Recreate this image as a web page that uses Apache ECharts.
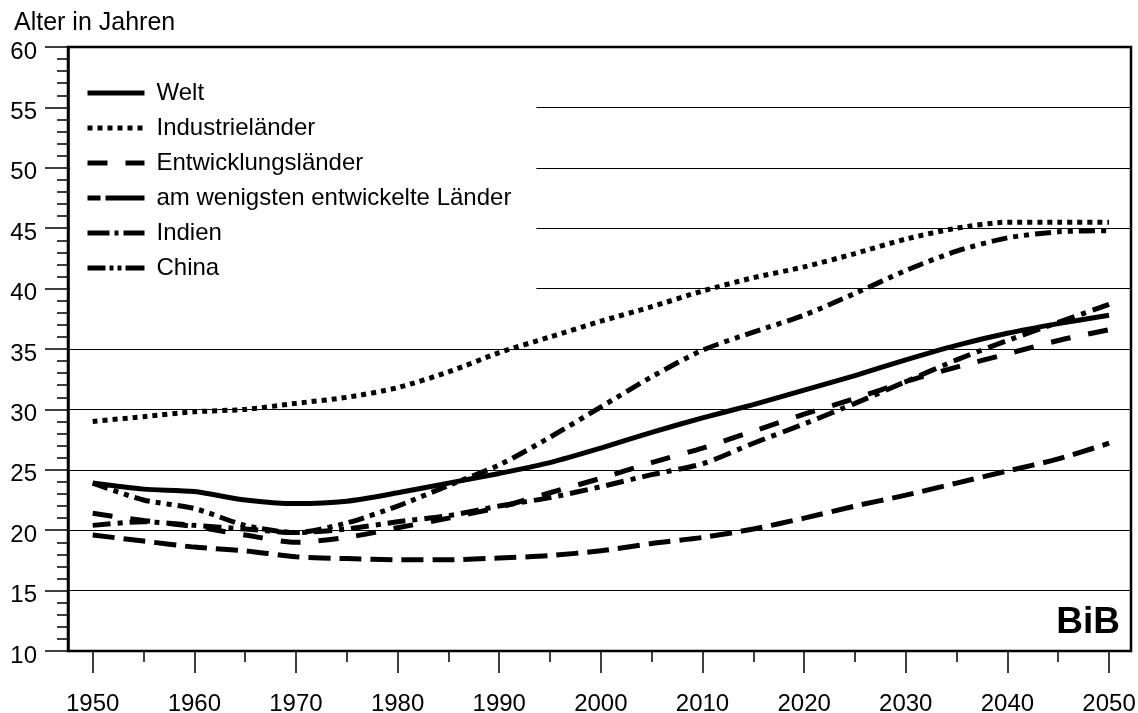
<!DOCTYPE html>
<html>
<head>
<meta charset="utf-8">
<script src="https://cdn.jsdelivr.net/npm/echarts@6/dist/echarts.min.js"></script>
<style>
  html, body { margin: 0; padding: 0; background: #fff; }
  #chart { width: 1138px; height: 713px; }
</style>
</head>
<body>
<div id="chart"></div>
<script>
// Medianalter nach Regionen, 1950-2050
const years = [1950, 1955, 1960, 1965, 1970, 1975, 1980, 1985, 1990, 1995, 2000,
  2005, 2010, 2015, 2020, 2025, 2030, 2035, 2040, 2045, 2050]
const welt = [23.9, 23.4, 23.2, 22.5, 22.2, 22.4, 23.1, 23.9, 24.7, 25.6, 26.8,
  28.1, 29.3, 30.4, 31.6, 32.8, 34.1, 35.3, 36.3, 37.1, 37.8]
const industrie = [29.0, 29.4, 29.8, 30.0, 30.5, 31.0, 31.8, 33.1, 34.7, 36.0, 37.3,
  38.5, 39.8, 40.9, 41.8, 42.9, 44.1, 45.0, 45.5, 45.5, 45.5]
const entwicklung = [21.4, 20.8, 20.3, 19.6, 19.0, 19.4, 20.2, 21.0, 21.9, 23.1, 24.3,
  25.6, 26.8, 28.2, 29.6, 30.9, 32.3, 33.5, 34.6, 35.7, 36.6]
const wenigst = [19.6, 19.1, 18.6, 18.3, 17.8, 17.65, 17.55, 17.55, 17.7, 17.9, 18.3,
  18.9, 19.4, 20.1, 21.0, 22.0, 22.9, 23.9, 24.9, 25.9, 27.2]
const indien = [20.4, 20.7, 20.4, 20.1, 19.8, 20.1, 20.7, 21.2, 22.0, 22.7, 23.6,
  24.6, 25.5, 27.2, 28.8, 30.5, 32.3, 34.1, 35.7, 37.2, 38.7]
const china = [23.9, 22.5, 21.8, 20.4, 19.8, 20.6, 22.0, 23.7, 25.4, 27.7, 30.2,
  32.7, 34.9, 36.4, 37.8, 39.6, 41.5, 43.1, 44.2, 44.7, 44.8]

const majorYears = [1950, 1960, 1970, 1980, 1990, 2000, 2010, 2020, 2030, 2040, 2050]
const minorYears = [1955, 1965, 1975, 1985, 1995, 2005, 2015, 2025, 2035, 2045]

const FONT = "'Liberation Sans', Arial, sans-serif"

const pairs = (vals) => years.map((y, i) => [y, vals[i]])

// Linie je Serie, Strichmuster wie im Original
const line = (name, vals, dash) => ({
  name: name,
  type: 'line',
  data: pairs(vals),
  symbol: 'none',
  smooth: 0.25,
  lineStyle: {
    color: '#000',
    width: 5,
    type: dash
  },
  itemStyle: { color: '#000' }
})

// Legendeneintrag, Muster etwas anders als in der Kurve
const legendItem = (name, dash) => ({
  name: name,
  lineStyle: { color: '#000', width: 5, type: dash },
  itemStyle: { color: 'rgba(0,0,0,0)', borderWidth: 0, opacity: 0 }
})

const chart = echarts.init(document.getElementById('chart'))
chart.setOption({
  animation: false,
  backgroundColor: '#fff',
  grid: {
    left: 68,
    right: 7,
    top: 47,
    bottom: 62,
    outerBoundsMode: 'none',
    show: true,
    borderColor: '#000',
    borderWidth: 2.5
  },
  legend: {
    orient: 'vertical',
    left: 70,
    top: 49,
    padding: [32, 25, 20, 15],
    backgroundColor: '#fff',
    itemWidth: 57,
    itemHeight: 24,
    itemGap: 11,
    selectedMode: false,
    itemStyle: { color: 'rgba(0,0,0,0)', borderWidth: 0, opacity: 0 },
    textStyle: {
      fontFamily: FONT,
      fontSize: 24,
      color: '#000',
      padding: [0, 0, 0, 7]
    },
    data: [
      legendItem('Welt', 'solid'),
      legendItem('Industrieländer', [5, 5]),
      legendItem('Entwicklungsländer', [20, 18]),
      legendItem('am wenigsten entwickelte Länder', [13, 5, 40, 5]),
      legendItem('Indien', [22, 5, 4, 5, 40, 5]),
      legendItem('China', [18, 4, 4, 4, 4, 4, 30, 4])
    ]
  },
  xAxis: [
    {
      type: 'value',
      min: 1947.57,
      max: 2052.16,
      position: 'bottom',
      axisLine: { show: false },
      splitLine: { show: false },
      axisTick: {
        show: true,
        length: 22,
        customValues: majorYears,
        lineStyle: { color: '#000', width: 1.5 }
      },
      axisLabel: {
        customValues: majorYears,
        formatter: (v) => String(v),
        margin: 41,
        fontFamily: FONT,
        fontSize: 24,
        color: '#000'
      }
    },
    {
      // kurze Striche bei den Zwischenjahren
      type: 'value',
      min: 1947.57,
      max: 2052.16,
      position: 'bottom',
      axisLine: { show: false },
      splitLine: { show: false },
      axisTick: {
        show: true,
        length: 11,
        customValues: minorYears,
        lineStyle: { color: '#000', width: 1.5 }
      },
      axisLabel: { show: false }
    }
  ],
  yAxis: {
    type: 'value',
    min: 10,
    max: 60,
    interval: 5,
    axisLine: { show: true, lineStyle: { color: '#000', width: 2.5 } },
    axisTick: {
      show: true,
      length: 23,
      lineStyle: { color: '#000', width: 1.5 }
    },
    minorTick: {
      show: true,
      splitNumber: 5,
      length: 11,
      lineStyle: { color: '#000', width: 1.5 }
    },
    splitLine: {
      show: true,
      lineStyle: { color: '#000', width: 1.2 }
    },
    axisLabel: {
      margin: 31,
      fontFamily: FONT,
      fontSize: 24,
      color: '#000',
      verticalAlign: 'top',
      lineHeight: 10
    }
  },
  graphic: [
    {
      type: 'text',
      left: 14,
      top: 11,
      style: {
        text: 'Alter in Jahren',
        font: '25px ' + FONT,
        fill: '#000'
      }
    },
    {
      type: 'text',
      right: 18,
      top: 604,
      style: {
        text: 'BiB',
        font: 'bold 37px ' + FONT,
        fill: '#000'
      }
    }
  ],
  series: [
    line('Welt', welt, 'solid'),
    line('Industrieländer', industrie, [5, 5]),
    line('Entwicklungsländer', entwicklung, [20, 18]),
    line('am wenigsten entwickelte Länder', wenigst, [22, 9]),
    line('Indien', indien, [18, 7, 5, 7]),
    line('China', china, [16, 6, 5, 6, 5, 6])
  ]
})
</script>
</body>
</html>
